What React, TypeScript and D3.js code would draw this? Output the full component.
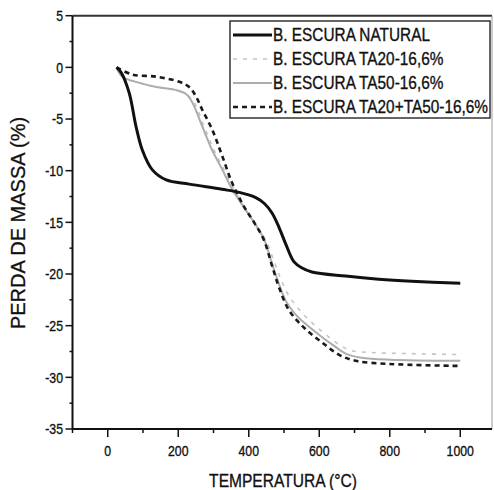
import React from "react";
import * as d3 from "d3";

const natT = [25, 38, 61, 80, 98, 126, 166, 231, 324, 373, 420, 445, 466, 486, 505, 528, 550, 579, 675, 769, 862, 1000];
const natV = [0, -0.5, -2.5, -5.7, -8.0, -9.9, -10.9, -11.3, -11.8, -12.1, -12.6, -13.2, -14.1, -15.5, -17.1, -18.8, -19.4, -19.8, -20.2, -20.5, -20.7, -20.9];

const ta20T = [25, 41, 90, 138, 194, 223, 245, 272, 300, 328, 356, 392, 420, 448, 470, 490, 510, 530, 555, 585, 620, 655, 690, 750, 850, 1000];
const ta20V = [0, -0.9, -1.5, -1.9, -2.2, -2.6, -3.4, -5.6, -7.9, -9.8, -11.6, -13.8, -15.2, -16.7, -18.6, -20.4, -21.9, -22.9, -23.9, -24.9, -25.9, -26.8, -27.4, -27.6, -27.7, -27.8];

const ta50T = [25, 41, 90, 138, 194, 223, 240, 268, 296, 325, 353, 387, 415, 443, 466, 486, 505, 530, 560, 600, 640, 675, 720, 800, 1000];
const ta50V = [0, -0.9, -1.5, -1.9, -2.2, -2.6, -3.4, -5.7, -8.0, -9.9, -11.8, -13.6, -15.0, -16.6, -19.0, -21.0, -22.6, -23.8, -24.8, -25.9, -26.9, -27.7, -28.1, -28.3, -28.4];

const mixT = [25, 70, 137, 203, 231, 250, 268, 296, 325, 353, 387, 415, 443, 466, 486, 514, 560, 607, 655, 703, 797, 1000];
const mixV = [0, -0.7, -0.9, -1.4, -1.9, -2.8, -4.1, -6.0, -8.6, -11.2, -13.5, -15.0, -16.7, -19.2, -21.3, -23.5, -25.3, -26.6, -27.8, -28.4, -28.7, -28.9];

const seriesNames = [
  "B. ESCURA NATURAL",
  "B. ESCURA TA20-16,6%",
  "B. ESCURA TA50-16,6%",
  "B. ESCURA TA20+TA50-16,6%",
];

const xTicks = [0, 200, 400, 600, 800, 1000];
const xMinor = [-100, 100, 300, 500, 700, 900];
const yTicks = [5, 0, -5, -10, -15, -20, -25, -30, -35];
const yMinor = [2.5, -2.5, -7.5, -12.5, -17.5, -22.5, -27.5, -32.5];

const styles = [
  { stroke: "#111", width: 3, dash: "" },
  { stroke: "#c4c4c4", width: 1.6, dash: "4,6" },
  { stroke: "#adadad", width: 2, dash: "" },
  { stroke: "#1a1a1a", width: 2.6, dash: "5,4" },
];

const SANS = "'Liberation Sans', Arial, sans-serif";

function NText(props: {
  x: number;
  y: number;
  size: number;
  sx: number;
  anchor?: "start" | "middle" | "end";
  dy?: string;
  children: React.ReactNode;
}) {
  return (
    <text
      transform={`translate(${props.x},${props.y}) scale(${props.sx},1)`}
      textAnchor={props.anchor || "start"}
      dy={props.dy}
      fontFamily={SANS}
      fontSize={props.size}
      fill="#111"
      stroke="#111"
      strokeWidth={0.35}
    >
      {props.children}
    </text>
  );
}

export default function App() {
  const x = d3.scaleLinear().domain([-100, 1090]).range([72.5, 492]);
  const y = d3.scaleLinear().domain([5, -35]).range([15.7, 429]);
  const line = d3
    .line<[number, number]>()
    .x((d) => x(d[0]))
    .y((d) => y(d[1]))
    .curve(d3.curveCatmullRom.alpha(0.5));

  const data: [number, number][][] = [
    natT.map((t, i) => [t, natV[i]]),
    ta20T.map((t, i) => [t, ta20V[i]]),
    ta50T.map((t, i) => [t, ta50V[i]]),
    mixT.map((t, i) => [t, mixV[i]]),
  ];
  const drawOrder = [1, 2, 3, 0];

  const [x0, x1] = x.range();
  const [y0, y1] = y.range();

  const legX = 230, legY = 21, legW = 260, legH = 97;
  const rowY = (i: number) => 35 + i * 24;

  return (
    <svg width={494} height={490} style={{ position: "absolute", left: 0, top: 0, background: "#fff" }}>
      <rect x={0} y={0} width={494} height={490} fill="#fff" />
      {drawOrder.map((i) => (
        <path
          key={i}
          d={line(data[i]) || ""}
          fill="none"
          stroke={styles[i].stroke}
          strokeWidth={styles[i].width}
          strokeDasharray={styles[i].dash}
          strokeLinejoin="round"
        />
      ))}
      <line x1={x0} y1={y0} x2={x1} y2={y0} stroke="#333" strokeWidth={2} />
      <line x1={x1} y1={y0} x2={x1} y2={y1} stroke="#999" strokeWidth={1} />
      <line x1={x0} y1={y0} x2={x0} y2={y1} stroke="#111" strokeWidth={2} />
      <line x1={x0} y1={y1} x2={x1} y2={y1} stroke="#111" strokeWidth={2} />
      {yTicks.map((v) => (
        <g key={"y" + v}>
          <line x1={x0 - 7} x2={x0} y1={y(v)} y2={y(v)} stroke="#111" strokeWidth={1.5} />
          <NText x={63} y={y(v)} dy="0.36em" size={15} sx={0.82} anchor="end">
            {v}
          </NText>
        </g>
      ))}
      {yMinor.map((v) => (
        <line key={"ym" + v} x1={x0 - 3} x2={x0} y1={y(v)} y2={y(v)} stroke="#111" strokeWidth={1.5} />
      ))}
      {xTicks.map((t) => (
        <g key={"x" + t}>
          <line x1={x(t)} x2={x(t)} y1={y1} y2={y1 + 8} stroke="#111" strokeWidth={1.5} />
          <NText x={x(t)} y={456} size={15} sx={0.82} anchor="middle">
            {t}
          </NText>
        </g>
      ))}
      {xMinor.map((t) => (
        <line key={"xm" + t} x1={x(t)} x2={x(t)} y1={y1} y2={y1 + 4} stroke="#111" strokeWidth={1.5} />
      ))}
      <text
        transform={`translate(25, 223) rotate(-90)`}
        textAnchor="middle"
        fontFamily={SANS}
        fontSize={20}
        fill="#111"
        stroke="#111"
        strokeWidth={0.3}
      >
        PERDA DE MASSA (%)
      </text>
      <NText x={283} y={487} size={19} sx={0.82} anchor="middle">
        TEMPERATURA (°C)
      </NText>
      <rect x={legX} y={legY} width={legW} height={legH} fill="#fff" stroke="#333" strokeWidth={1.5} />
      {seriesNames.map((name, i) => (
        <g key={name}>
          <line
            x1={233}
            x2={272}
            y1={rowY(i)}
            y2={rowY(i)}
            stroke={styles[i].stroke}
            strokeWidth={styles[i].width}
            strokeDasharray={styles[i].dash}
          />
          <NText x={273} y={rowY(i)} dy="0.36em" size={18} sx={0.855}>
            {name}
          </NText>
        </g>
      ))}
    </svg>
  );
}
